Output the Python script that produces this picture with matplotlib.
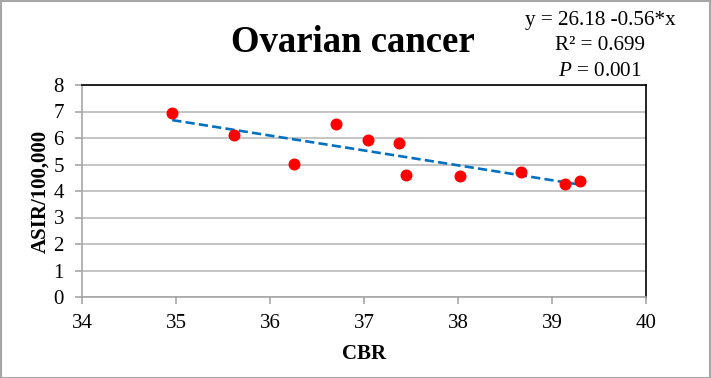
import matplotlib
matplotlib.use("Agg")
import matplotlib.pyplot as plt
import numpy as np
from matplotlib.patches import Rectangle

cbr = [34.96, 35.62, 36.25, 36.70, 37.04, 37.37, 37.45, 38.02, 38.67, 39.14, 39.30]
asir = [6.94, 6.12, 5.03, 6.54, 5.91, 5.81, 4.62, 4.55, 4.70, 4.26, 4.38]
title = "Ovarian cancer"
xlabel = "CBR"
ylabel = "ASIR/100,000"
eq_lines = ["y = 26.18 -0.56*x", "R² = 0.699", r"$\it{P}$ = 0.001"]

plt.rcParams['font.family'] = ['Liberation Serif', 'DejaVu Serif']
plt.rcParams['mathtext.fontset'] = 'custom'
plt.rcParams['mathtext.it'] = 'Liberation Serif:italic'
plt.rcParams['mathtext.rm'] = 'Liberation Serif'

W, H = 711, 378
fig = plt.figure(figsize=(W / 100, H / 100), dpi=100)
L, R, T, B = 82, 646, 85, 297
ax = fig.add_axes([L / W, 1 - B / H, (R - L) / W, (B - T) / H])

ax.set_xlim(34, 40)
ax.set_ylim(0, 8)
ax.set_xticks(range(34, 41))
ax.set_yticks(range(0, 9))
ax.grid(axis='y', color='#BFBFBF', linewidth=1.3)
ax.set_axisbelow(True)
for s in ['top', 'right']:
    ax.spines[s].set_color('black')
    ax.spines[s].set_linewidth(1.2)
for s in ['left', 'bottom']:
    ax.spines[s].set_color('#A6A6A6')
    ax.spines[s].set_linewidth(1.2)
ax.tick_params(axis='both', colors='#A6A6A6', labelcolor='black', labelsize=15,
               length=5, width=1.2, direction='out')
ax.tick_params(axis='y', pad=8)
ax.tick_params(axis='x', pad=7)

ax.scatter(cbr, asir, s=58, color='#FF0000', zorder=3)
coef = np.polyfit(cbr, asir, 1)
xs = np.array([min(cbr), max(cbr)])
ax.plot(xs, np.polyval(coef, xs), linestyle=(0, (3.5, 1.6)), color='#0070C0',
        linewidth=1.9, zorder=2)

ax.set_xlabel(xlabel, fontsize=15, fontweight='bold', labelpad=8)
ax.set_ylabel(ylabel, fontsize=15, fontweight='bold', labelpad=2)

fig.text(353 / W, 1 - 42 / H, title, fontsize=26.5, fontweight='bold',
         ha='center', va='center')
for i, line in enumerate(eq_lines):
    fig.text(600 / W, 1 - (20 + 25.5 * i) / H, line, fontsize=15.2,
             ha='center', va='center')

fig.patches.append(Rectangle((0.5 / W, 0.5 / H), 1 - 1.5 / W, 1 - 1.5 / H,
                             transform=fig.transFigure, fill=False,
                             edgecolor='#A6A6A6', linewidth=1.5))

fig.savefig("out.png", dpi=100)
